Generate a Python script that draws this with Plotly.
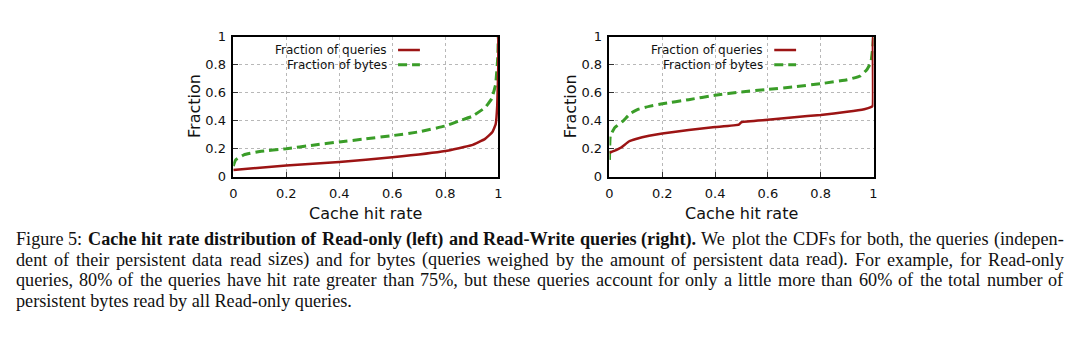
import plotly.graph_objects as go

# ---------------- data ----------------
ro_q_x = [0.0, 0.2, 0.4, 0.6, 0.8, 0.9, 0.95, 0.977, 0.99, 0.996, 1.0, 1.0]
ro_q_y = [0.048, 0.08, 0.105, 0.138, 0.183, 0.225, 0.27, 0.317, 0.374, 0.51, 0.8, 1.0]

ro_b_x = [0.0, 0.009, 0.04, 0.1, 0.2, 0.3, 0.4, 0.5, 0.6, 0.7, 0.8, 0.85, 0.9, 0.95, 0.975, 0.99, 0.998, 1.0]
ro_b_y = [0.076, 0.12, 0.156, 0.18, 0.2, 0.225, 0.248, 0.27, 0.293, 0.32, 0.362, 0.397, 0.43, 0.493, 0.557, 0.66, 0.855, 1.0]

rw_q_x = [0.0, 0.025, 0.044, 0.075, 0.1, 0.15, 0.2, 0.3, 0.4, 0.49, 0.5, 0.6, 0.7, 0.8, 0.9, 0.965, 0.99, 0.997, 0.998, 1.0]
rw_q_y = [0.171, 0.19, 0.208, 0.253, 0.269, 0.292, 0.308, 0.333, 0.354, 0.372, 0.39, 0.406, 0.425, 0.44, 0.463, 0.482, 0.496, 0.505, 1.0, 1.0]

rw_b_x = [0.0, 0.003, 0.02, 0.05, 0.08, 0.11, 0.15, 0.2, 0.3, 0.4, 0.5, 0.6, 0.7, 0.8, 0.9, 0.95, 0.975, 0.99, 0.997, 1.0]
rw_b_y = [0.12, 0.29, 0.35, 0.395, 0.452, 0.482, 0.502, 0.52, 0.55, 0.582, 0.605, 0.623, 0.642, 0.664, 0.692, 0.719, 0.765, 0.817, 0.92, 1.0]

tick_vals = [0, 0.2, 0.4, 0.6, 0.8, 1]
tick_text = ["0", "0.2", "0.4", "0.6", "0.8", "1"]

legend_labels = ["Fraction of queries", "Fraction of bytes"]
axis_x_title = "Cache hit rate"
axis_y_title = "Fraction"

# caption: each line is a list of (text, bold) runs
caption_lines = [
    [("Figure 5:", False),
     ("Cache hit rate distribution of Read-only (left) and Read-Write queries (right).", True),
     ("We plot the CDFs for both, the queries (indepen-", False)],
    [("dent of their persistent data read sizes) and for bytes (queries weighed by the amount of persistent data read). For example, for Read-only", False)],
    [("queries, 80% of the queries have hit rate greater than 75%, but these queries account for only a little more than 60% of the total number of", False)],
    [("persistent bytes read by all Read-only queries.", False)],
]
caption_justified = [True, True, True, False]
caption_y = [243, 264.5, 286, 307.5]

# ---------------- style ----------------
W, H = 1080, 340
RED = "#9c1414"
GREEN = "#3a9d28"
SANS = "DejaVu Sans"
SERIF = "Liberation Serif"
CAP_SIZE = 18.2
CAP_X0, CAP_X1 = 12, 1067

# Times (Liberation Serif metric-compatible) advance widths, per 1000 em
TR = {" ": 250, "%": 833, "(": 333, ")": 333, ",": 250, "-": 333, ".": 250, ":": 278,
      "A": 722, "B": 667, "C": 667, "D": 722, "F": 556, "R": 667, "S": 556, "W": 944,
      "a": 444, "b": 500, "c": 444, "d": 500, "e": 444, "f": 333, "g": 500, "h": 500,
      "i": 278, "j": 278, "k": 500, "l": 278, "m": 778, "n": 500, "o": 500, "p": 500,
      "q": 500, "r": 333, "s": 389, "t": 278, "u": 500, "v": 500, "w": 722, "x": 500,
      "y": 500, "z": 444}
TB = {" ": 250, "%": 1000, "(": 333, ")": 333, ",": 250, "-": 333, ".": 250, ":": 333,
      "A": 722, "B": 667, "C": 722, "D": 722, "F": 611, "R": 722, "S": 556, "W": 1000,
      "a": 500, "b": 556, "c": 444, "d": 556, "e": 444, "f": 333, "g": 500, "h": 556,
      "i": 278, "j": 333, "k": 556, "l": 278, "m": 833, "n": 556, "o": 500, "p": 556,
      "q": 556, "r": 444, "s": 389, "t": 333, "u": 556, "v": 500, "w": 722, "x": 500,
      "y": 500, "z": 444}


def text_width(word, bold):
    tab = TB if bold else TR
    return sum(tab.get(ch, 500) for ch in word) / 1000.0 * CAP_SIZE


fig = go.Figure()

panels = [
    ("x", "y", (231, 498), ro_q_x, ro_q_y, ro_b_x, ro_b_y),
    ("x2", "y2", (610, 876), rw_q_x, rw_q_y, rw_b_x, rw_b_y),
]
y_top, y_bot = 31, 177.5

for xa, ya, (x0, x1), qx, qy, bx, by in panels:
    fig.add_trace(go.Scatter(x=bx, y=by, xaxis=xa, yaxis=ya, mode="lines",
                             line=dict(color=GREEN, width=3, dash="9px,5px", shape="spline", smoothing=0.3),
                             showlegend=False, hoverinfo="skip"))
    fig.add_trace(go.Scatter(x=qx, y=qy, xaxis=xa, yaxis=ya, mode="lines",
                             line=dict(color=RED, width=2.5, shape="spline", smoothing=0.3),
                             showlegend=False, hoverinfo="skip"))

layout_axes = {}
for i, (xa, ya, (x0, x1), *_rest) in enumerate(panels):
    suffix = "" if i == 0 else "2"
    common = dict(showline=True, linecolor="black", linewidth=1.5, mirror=True,
                  ticks="inside", ticklen=5, tickcolor="#333", tickwidth=1.2,
                  tickvals=tick_vals, ticktext=tick_text,
                  tickfont=dict(family=SANS, size=13, color="#111"),
                  showgrid=True, gridcolor="#b8b8b8", griddash="dot", gridwidth=1,
                  zeroline=False, range=[0, 1], fixedrange=True)
    layout_axes["xaxis" + suffix] = dict(common, domain=[x0 / W, x1 / W],
                                         anchor="y" + suffix, ticklabelstandoff=4)
    layout_axes["yaxis" + suffix] = dict(common, domain=[1 - y_bot / H, 1 - y_top / H],
                                         anchor="x" + suffix, ticklabelstandoff=3)

fig.update_layout(width=W, height=H, margin=dict(l=0, r=0, t=0, b=0),
                  paper_bgcolor="white", plot_bgcolor="white",
                  showlegend=False, **layout_axes)

annotations = []
shapes = []
# axis titles
for (x0, x1), ytitle_x in [((231, 498), 192), ((610, 876), 571)]:
    annotations.append(dict(text=axis_x_title, x=(x0 + x1) / 2 / W, y=1 - 216 / H,
                            xref="paper", yref="paper", showarrow=False,
                            xanchor="center", yanchor="middle",
                            font=dict(family=SANS, size=16, color="#111")))
    annotations.append(dict(text=axis_y_title, x=ytitle_x / W, y=1 - 104 / H,
                            xref="paper", yref="paper", showarrow=False, textangle=-90,
                            xanchor="center", yanchor="middle",
                            font=dict(family=SANS, size=16, color="#111")))

# legends (gnuplot style: text right-aligned, sample after)
for text_end, s0, s1 in [(388, 397, 419), (767, 776, 798)]:
    for j, (lab, col, dash, wid) in enumerate([(legend_labels[0], RED, "solid", 2.5),
                                               (legend_labels[1], GREEN, "9px,5px", 3)]):
        yy = 1 - (45 + 15.5 * j) / H
        annotations.append(dict(text=lab, x=text_end / W, y=yy, xref="paper", yref="paper",
                                showarrow=False, xanchor="right", yanchor="middle",
                                font=dict(family=SANS, size=12, color="#111")))
        shapes.append(dict(type="line", xref="paper", yref="paper",
                           x0=s0 / W, x1=s1 / W, y0=yy, y1=yy,
                           line=dict(color=col, width=wid, dash=dash)))

# caption: justified lines word by word, last line as plain text
for runs, just, yc in zip(caption_lines, caption_justified, caption_y):
    if not just:
        txt = " ".join(f"<b>{t}</b>" if b else t for t, b in runs)
        annotations.append(dict(text=txt, x=CAP_X0 / W, y=1 - yc / H,
                                xref="paper", yref="paper", showarrow=False,
                                xanchor="left", yanchor="middle", borderpad=0, borderwidth=0,
                                font=dict(family=SERIF, size=CAP_SIZE, color="#111")))
        continue
    words = []
    for txt, bold in runs:
        words += [(w, bold) for w in txt.split()]
    widths = [text_width(w, b) for w, b in words]
    gap = (CAP_X1 - CAP_X0 - sum(widths)) / (len(words) - 1)
    xpos = CAP_X0
    for (w, b), wd in zip(words, widths):
        annotations.append(dict(text=f"<b>{w}</b>" if b else w, x=xpos / W, y=1 - yc / H,
                                xref="paper", yref="paper", showarrow=False,
                                xanchor="left", yanchor="middle", borderpad=0, borderwidth=0,
                                font=dict(family=SERIF, size=CAP_SIZE, color="#111")))
        xpos += wd + gap

fig.update_layout(annotations=annotations, shapes=shapes)
fig.write_html("out.html")
